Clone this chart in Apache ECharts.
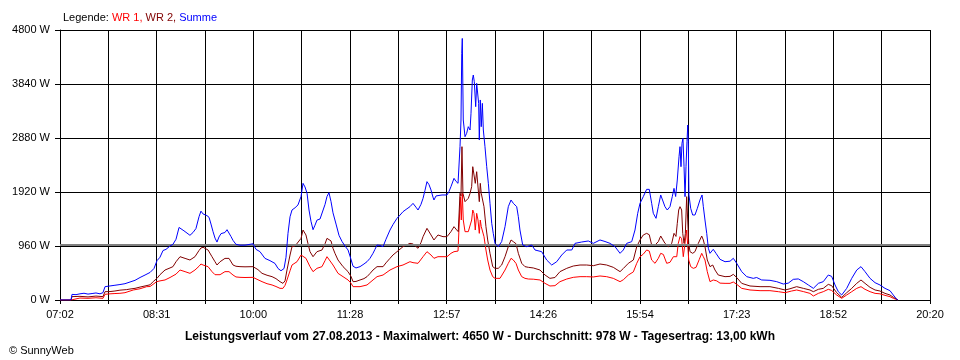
<!DOCTYPE html>
<html><head><meta charset="utf-8">
<script src="https://cdn.jsdelivr.net/npm/echarts@6/dist/echarts.min.js"></script>
<style>html,body{margin:0;padding:0;background:#fff}#c{width:960px;height:360px}</style>
</head><body><div id="c"></div>
<script>
// time = minutes after 07:02
const tickLabels = ['07:02','08:31','10:00','11:28','12:57','14:26','15:54','17:23','18:52','20:20'];
const yTicks = [0, 960, 1920, 2880, 3840, 4800];
const average = 978;

const summeT = [0,10.1,11.0,14.7,18.3,22.0,25.7,29.4,33.0,36.7,39.4,41.3,45.9,50.4,55.0,59.6,64.2,68.8,73.4,78.0,82.6,86.2,89.0,91.7,94.5,97.2,100.9,103.6,106.4,109.2,111.0,113.7,116.5,119.2,122.0,124.7,127.5,129.3,131.2,133.0,134.8,136.7,138.5,140.3,142.2,144.0,145.8,147.7,149.5,151.3,153.2,155.0,156.8,158.7,161.4,165.1,169.7,174.3,177.0,179.8,183.4,188.0,192.6,197.2,200.0,202.7,205.5,207.3,209.1,211.0,212.8,215.6,218.3,221.1,222.9,224.7,226.6,228.4,230.2,232.1,233.9,235.7,238.5,240.3,243.1,244.9,246.7,248.6,250.4,253.2,255.9,258.7,261.4,264.2,266.0,268.8,271.5,275.2,278.8,281.6,284.3,287.1,288.9,290.8,293.5,296.3,299.0,302.7,305.4,309.1,311.9,314.6,317.4,321.0,323.8,326.5,328.4,331.1,333.0,334.8,336.6,338.5,340.3,342.1,343.0,344.9,346.7,350.4,355.0,356.8,358.6,361.4,363.2,365.1,366.9,367.8,368.5,369.0,369.9,371.5,373.0,374.5,376.1,377.0,378.2,379.1,380.0,381.3,382.2,383.1,384.0,384.6,385.5,386.4,387.4,388.3,389.8,391.4,392.9,394.4,396.0,397.4,399.0,400.6,402.0,405.1,408.2,411.2,413.7,415.8,418.9,420.4,421.9,424.4,428.1,432.7,435.7,441.8,446.4,451.0,455.6,460.2,464.8,469.4,472.4,478.5,484.6,489.2,495.3,499.9,504.5,509.1,513.7,516.7,519.8,524.4,527.4,529.9,532.0,535.0,538.1,540.5,542.7,544.2,546.7,548.8,551.0,552.8,554.9,557.0,559.5,561.6,563.2,564.7,566.2,567.8,568.7,569.6,570.5,571.4,572.4,573.3,574.2,575.1,575.8,576.3,576.9,578.5,580.3,582.4,584.6,587.0,588.9,590.1,591.6,593.2,594.7,596.2,599.2,601.7,605.4,610.0,614.6,617.6,620.7,625.3,629.9,635.9,639.0,643.6,651.2,657.4,663.5,668.0,672.6,677.2,681.8,686.4,691.0,695.6,700.1,704.7,707.8,710.9,713.9,717.0,721.6,726.2,730.8,734.7,738.4,743.0,747.6,752.1,756.7,761.3,764.3,767.5,768.6];
const summeV = [0,0,100,95,110,120,105,115,125,110,130,237,250,262,275,290,320,350,400,444,490,560,700,760,880,900,960,990,1080,1290,1300,1230,1190,1150,1200,1270,1480,1580,1530,1560,1500,1470,1350,1220,1100,1030,1120,1180,1150,1200,1250,1220,1130,1060,990,975,975,990,1000,900,860,740,700,650,560,520,560,760,1180,1480,1600,1640,1690,1840,2074,2010,1900,1600,1400,1250,1330,1420,1440,1460,1700,1840,1908,1750,1550,1350,1150,1040,960,889,780,600,570,593,640,681,740,830,900,978,970,948,1080,1244,1340,1452,1510,1570,1610,1659,1718,1650,1600,1700,1807,1950,2104,2050,1956,1830,1778,1850,1867,1867,1867,1930,2015,2163,2110,2074,2726,3200,4385,4650,3200,2903,2963,3081,3022,3319,3911,4000,3881,3437,3852,3822,3496,2844,3556,3081,3496,3022,2726,2370,2074,1719,1363,1185,1007,1037,948,1037,1304,1659,1778,1719,1659,1481,1244,978,948,978,889,859,711,622,681,800,889,889,1007,1031,1049,1007,1067,1040,1007,948,830,889,1007,1037,1244,1541,1719,1837,1967,1967,1719,1541,1452,1659,1867,1896,1659,1600,1659,1837,1985,1840,2133,2548,2726,2370,2785,2874,2370,1837,2370,2815,3111,2800,1867,1630,1511,1511,1630,1778,1867,1659,1422,1185,919,830,901,830,723,681,690,741,652,504,415,385,400,356,350,326,284,300,367,375,326,267,207,296,326,444,420,267,148,89,207,385,533,593,504,385,308,267,207,166,89,12,0];

const wr2T = [0,10.1,11.0,18.3,25.7,33.0,39.4,41.3,45.9,50.4,55.0,61.2,64.2,68.8,73.4,78.0,82.6,85.6,89.0,91.7,96.3,100.9,103.6,106.4,110.1,114.7,119.2,123.8,127.5,129.3,131.2,133.0,135.8,139.4,142.2,144.0,146.8,148.6,151.3,155.0,158.7,161.4,165.1,169.7,177.0,181.6,185.3,189.9,194.5,198.1,201.8,204.5,206.4,208.2,211.0,212.8,215.6,217.4,221.1,222.9,225.6,227.5,229.3,232.1,235.7,240.3,243.1,244.9,246.7,248.6,250.4,252.2,255.0,259.6,264.2,266.9,268.8,271.5,275.2,278.8,281.6,284.3,287.1,290.8,296.3,299.0,302.7,305.4,309.1,314.6,321.0,323.8,328.4,331.1,333.0,336.6,340.3,343.0,346.7,351.3,355.0,358.6,361.4,363.2,365.3,366.9,367.8,368.7,369.6,371.5,373.0,374.5,376.1,377.6,378.6,379.7,380.9,382.2,383.4,384.6,385.5,386.4,387.7,388.9,390.7,392.3,394.4,396.9,399.0,402.0,403.6,405.1,408.2,411.2,413.7,415.8,418.3,420.4,423.5,426.5,429.6,434.1,440.3,444.9,449.4,454.0,458.6,464.8,470.8,477.0,483.1,489.2,495.3,501.4,507.5,513.7,516.7,521.3,525.9,529.0,532.0,535.0,538.1,540.5,542.7,545.8,548.8,551.0,552.8,554.9,558.0,561.1,563.2,565.0,566.2,567.5,568.7,570.2,571.2,572.4,573.6,574.8,575.8,576.7,577.9,580.3,582.4,585.5,588.6,590.1,591.6,593.7,596.2,598.7,600.8,603.8,610.0,614.6,617.6,620.7,625.3,632.9,642.1,651.2,658.9,665.0,669.6,675.7,681.8,687.9,691.0,695.6,700.1,704.7,707.8,712.4,717.0,721.6,726.2,730.8,734.7,738.4,743.0,747.6,752.1,756.7,761.3,764.3,767.5,768.6];
const wr2V = [0,0,60,65,55,70,60,148,150,160,175,185,195,207,230,250,270,330,385,450,533,570,593,680,770,740,711,770,880,925,937,930,889,770,680,622,680,711,740,740,622,600,593,590,593,540,474,440,415,380,326,296,340,533,800,948,960,978,1096,1244,1156,1000,859,770,859,889,1000,1096,1126,1050,919,830,711,593,504,420,326,330,356,380,415,470,533,593,593,660,741,800,859,948,1007,996,919,1020,1126,1274,1156,1067,1156,1126,1126,1215,1304,1260,1215,1896,1850,2726,1896,1748,1770,1807,1896,2015,2370,2341,2074,2281,2260,1748,2074,1896,1896,1659,1304,1067,830,593,563,563,593,622,770,948,1067,1037,1000,830,652,593,581,570,533,444,385,400,504,563,604,622,622,610,640,622,581,504,560,652,711,948,1067,1156,1185,1160,978,978,1037,1138,1130,1007,948,1007,1185,1130,1363,1600,1659,1600,1185,1007,1185,1837,1867,1007,859,830,859,1007,1138,1067,948,711,593,622,533,444,415,420,456,400,296,249,237,237,207,178,200,237,207,178,148,190,207,278,255,130,47,130,207,296,356,296,225,178,160,118,89,50,12,0];

const wr1T = [0,10.1,11.0,18.3,25.7,33.0,39.4,41.3,45.9,50.4,55.0,59.6,67.2,73.4,79.5,82.6,88.7,91.7,96.3,100.9,102.7,106.4,110.1,114.7,119.2,123.8,127.5,129.3,131.2,133.0,135.8,139.4,142.2,144.0,146.8,148.6,151.3,155.0,158.7,161.4,165.1,169.7,177.0,181.6,185.3,189.9,194.5,198.1,201.8,204.5,206.4,208.2,211.0,212.8,217.4,221.1,222.9,225.6,229.3,232.1,235.7,240.3,243.1,244.9,246.7,250.4,255.0,259.6,264.2,266.9,268.8,275.2,281.6,287.1,290.8,296.3,302.7,309.1,314.6,321.0,323.8,328.4,333.0,336.6,340.3,343.0,346.7,355.0,358.6,361.4,365.1,366.9,367.2,368.1,369.0,369.9,371.5,373.0,374.5,376.1,377.6,378.6,379.7,380.9,382.2,383.4,384.6,385.5,386.4,387.7,388.9,390.7,392.3,394.4,396.9,399.0,403.6,405.1,408.2,411.2,413.7,415.8,418.3,420.4,423.5,426.5,429.6,434.1,440.3,444.9,449.4,454.0,458.6,464.8,470.8,477.0,483.1,489.2,495.3,501.4,507.5,513.7,516.7,521.3,525.9,529.0,532.0,535.0,538.1,540.5,542.7,545.8,548.8,551.0,553.4,556.5,559.5,562.6,564.1,565.7,567.1,568.7,570.2,571.7,573.3,574.8,575.8,576.7,578.5,580.9,583.4,586.4,588.6,590.1,591.6,593.7,596.2,599.2,602.4,605.4,610.0,614.6,617.6,620.7,625.3,632.9,642.1,651.2,658.9,665.0,671.1,675.7,681.8,687.9,691.0,695.6,700.1,704.7,707.8,712.4,717.0,721.6,726.2,730.8,734.7,738.4,743.0,747.6,752.1,756.7,761.3,764.3,767.5,768.6];
const wr1V = [0,0,30,35,30,40,30,101,110,115,119,130,178,200,237,240,326,340,356,400,415,460,533,504,474,533,600,640,622,622,593,504,450,415,450,474,504,504,444,410,403,400,403,360,326,290,267,240,207,207,260,356,520,622,681,800,830,741,593,504,563,593,700,770,800,622,474,415,356,300,237,237,267,356,415,444,533,593,622,681,664,652,770,859,800,741,770,770,830,859,870,889,1837,1422,1896,1422,1215,1200,1215,1244,1422,1600,1541,1244,1541,1422,1185,1422,1304,1290,1126,889,711,533,415,385,385,415,533,652,741,711,650,533,415,385,373,370,356,296,249,255,326,373,403,415,415,410,427,415,385,326,360,444,500,652,770,815,889,870,711,652,741,830,810,652,670,770,800,770,1007,1126,1090,770,740,1244,1230,711,593,563,580,723,830,770,711,504,326,356,340,300,296,296,320,280,207,178,166,166,148,130,160,178,150,118,71,118,148,190,170,89,30,89,148,207,237,190,148,118,110,83,59,30,10,0];

const zip = (t, v) => t.map((x, i) => [x, v[i]]);
const SPAN = 798, STEP = SPAN / 18;
const font = 'Liberation Sans, Arial, sans-serif';

const chart = echarts.init(document.getElementById('c'), null, {renderer: 'canvas'});
chart.setOption({
  animation: false,
  backgroundColor: '#ffffff',
  textStyle: {fontFamily: font},
  title: [
    {text: '{a|Legende: }{b|WR 1, }{c|WR 2, }{d|Summe}', left: 58, top: 7,
     textStyle: {fontSize: 11, fontWeight: 'normal', rich: {
       a: {color: '#000', fontSize: 11, fontFamily: font},
       b: {color: '#ff0000', fontSize: 11, fontFamily: font},
       c: {color: '#800000', fontSize: 11, fontFamily: font},
       d: {color: '#0000ff', fontSize: 11, fontFamily: font}}}},
    {text: 'Leistungsverlauf vom 27.08.2013 - Maximalwert: 4650 W - Durchschnitt: 978 W - Tagesertrag: 13,00 kWh',
     left: 'center', top: 326, textStyle: {fontSize: 12, fontWeight: 'bold', color: '#000', fontFamily: font}},
    {text: '© SunnyWeb', left: 4, top: 340, textStyle: {fontSize: 11, fontWeight: 'normal', color: '#000', fontFamily: font}}
  ],
  grid: {left: 60, right: 30, top: 30, bottom: 60, containLabel: false},
  xAxis: {
    type: 'value', min: 0, max: SPAN, interval: STEP,
    axisLine: {show: true, lineStyle: {color: '#000', width: 1}},
    axisTick: {show: true, length: 4, lineStyle: {color: '#000'}},
    splitLine: {show: true, lineStyle: {color: '#000', width: 1}},
    axisLabel: {
      color: '#000', fontSize: 11, margin: 9, fontFamily: font,
      showMinLabel: true, showMaxLabel: true, hideOverlap: false,
      formatter: v => { const i = Math.round(v / STEP); return i % 2 === 0 ? tickLabels[i / 2] : ''; }
    }
  },
  yAxis: {
    type: 'value', min: yTicks[0], max: yTicks[yTicks.length - 1], interval: yTicks[1] - yTicks[0],
    axisLine: {show: true, lineStyle: {color: '#000', width: 1}},
    axisTick: {show: true, length: 5, lineStyle: {color: '#000'}},
    splitLine: {show: true, lineStyle: {color: '#000', width: 1}},
    axisLabel: {color: '#000', fontSize: 11, margin: 10, fontFamily: font, formatter: v => String(v) + ' W'}
  },
  series: [
    {name: 'WR 1', type: 'line', data: zip(wr1T, wr1V), showSymbol: false, symbol: 'none',
     lineStyle: {color: '#ff0000', width: 1}, itemStyle: {color: '#ff0000'}, z: 3,
     markLine: {silent: true, symbol: 'none', label: {show: false},
       lineStyle: {color: '#808080', width: 2, type: 'solid'}, data: [{yAxis: average}]}},
    {name: 'WR 2', type: 'line', data: zip(wr2T, wr2V), showSymbol: false, symbol: 'none',
     lineStyle: {color: '#800000', width: 1}, itemStyle: {color: '#800000'}, z: 4},
    {name: 'Summe', type: 'line', data: zip(summeT, summeV), showSymbol: false, symbol: 'none',
     lineStyle: {color: '#0000ff', width: 1}, itemStyle: {color: '#0000ff'}, z: 5}
  ]
});
</script></body></html>
